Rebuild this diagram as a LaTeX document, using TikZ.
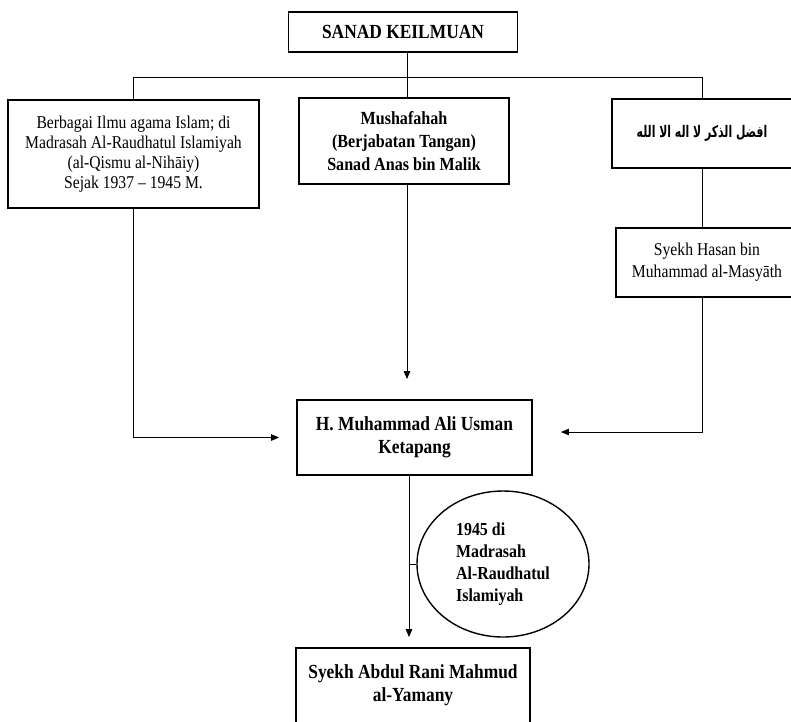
\documentclass[tikz,border=0pt]{standalone}
\usepackage{fontspec}
\setmainfont{Liberation Serif}[FakeStretch=0.87]
\newfontfamily\arabicfont[Script=Arabic,FakeStretch=0.68]{DejaVu Sans}
\TeXXeTstate=1
\usetikzlibrary{arrows.meta,shapes.geometric}
\begin{document}
\begin{tikzpicture}[x=1pt,y=-1pt,
  box/.style={draw, line width=1.8pt, inner sep=0pt, align=center},
  conn/.style={line width=1pt},
  arr/.style={conn, -{Triangle[length=8pt,width=6.5pt]}}]
\useasboundingbox (0,0) rectangle (791,721);
\clip (0,0) rectangle (791,721);

\node[box, minimum width=229pt, minimum height=40pt, font=\bfseries\fontsize{20}{23}\selectfont] (title) at (403,32) {SANAD KEILMUAN};
\node[box, minimum width=251pt, minimum height=108pt, font=\fontsize{18}{20}\selectfont] (lbox) at (133.5,154) {Berbagai Ilmu agama Islam; di\\Madrasah Al-Raudhatul Islamiyah\\(al-Qismu al-Nihāiy)\\Sejak 1937 – 1945 M.};
\node[box, minimum width=210pt, minimum height=86pt, font=\bfseries\fontsize{18.5}{23}\selectfont] (mid) at (404,141) {Mushafahah\\(Berjabatan Tangan)\\Sanad Anas bin Malik};
\node[box, minimum width=180pt, minimum height=69pt] (arab) at (702,133.5) {\arabicfont\bfseries\fontsize{16}{18}\selectfont\beginR افضل الذكر لا اله الا الله\endR};
\node[box, minimum width=182pt, minimum height=69pt, font=\fontsize{18}{22}\selectfont] (hasan) at (707,262.5) {Syekh Hasan bin\\Muhammad al-Masyāth};
\node[box, minimum width=235pt, minimum height=75pt, font=\bfseries\fontsize{20}{23}\selectfont] (ali) at (414.5,437.5) {H. Muhammad Ali Usman\\Ketapang};
\node[draw, ellipse, line width=1.4pt, minimum width=172pt, minimum height=146pt, inner sep=0pt, align=left, font=\bfseries\fontsize{18.3}{22}\selectfont] (note) at (503,564) {1945 di\\Madrasah\\Al-Raudhatul\\Islamiyah};
\node[box, minimum width=234pt, minimum height=94pt, font=\bfseries\fontsize{20}{23}\selectfont] (rani) at (413,695) {Syekh Abdul Rani Mahmud\\al-Yamany\\\mbox{}};

\coordinate (bus) at (407,77);
\coordinate (stem) at (409,560);
\draw[conn] (bus |- title.south) -- (bus |- mid.north);
\draw[conn] (lbox.north) -- (lbox.north |- bus) -- (arab.north |- bus) -- (arab.north);
\draw[conn] (arab.south) -- (arab.south |- hasan.north);
\draw[arr] (lbox.south) |- ([xshift=-17pt]ali.west);
\draw[arr] (arab.south |- hasan.south) |- ([xshift=28pt,yshift=5.5pt]ali.east);
\draw[arr] (bus |- mid.south) -- ([yshift=20pt]bus |- ali.north);
\draw[arr] (stem |- ali.south) -- ([yshift=10pt]stem |- rani.north);
\draw[conn] (stem |- note.west) -- (note.west);
\end{tikzpicture}
\end{document}
